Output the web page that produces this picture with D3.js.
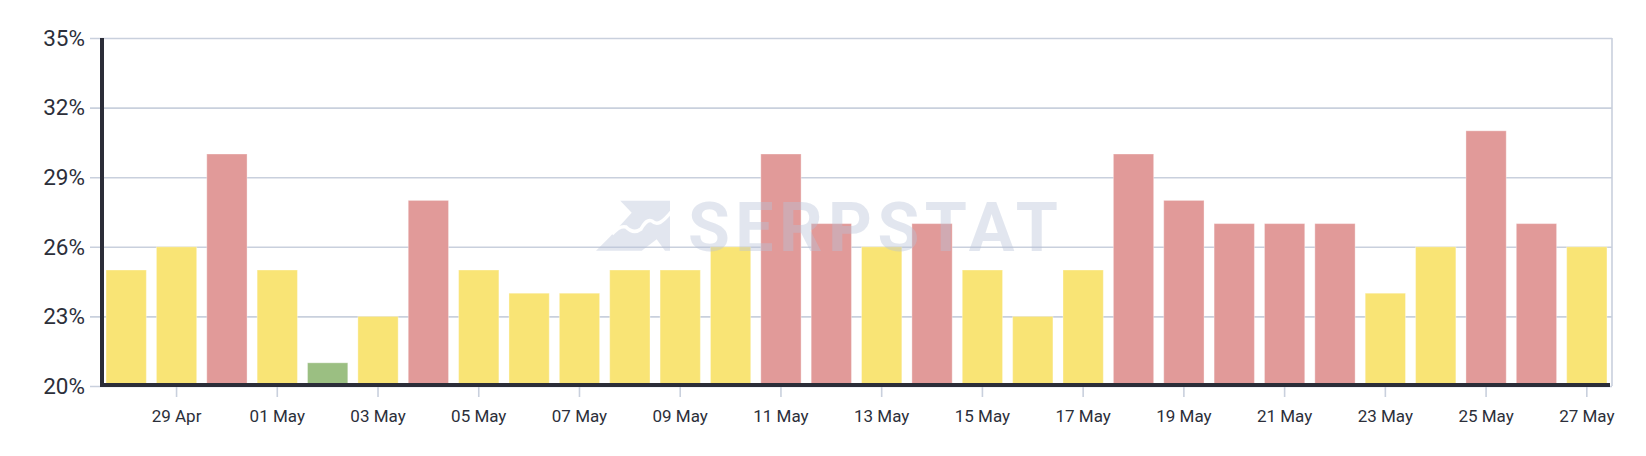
<!DOCTYPE html>
<html>
<head>
<meta charset="utf-8">
<script src="https://cdnjs.cloudflare.com/ajax/libs/d3/7.8.5/d3.min.js"></script>
<style>
  body { margin: 0; background: #fff; }
  text { font-family: Roboto, "Open Sans", sans-serif; }
</style>
</head>
<body>
<div class="container"></div>
<script>
// dias y valores
const days = ['28 Apr', '29 Apr', '30 Apr', '01 May', '02 May', '03 May', '04 May', '05 May',
  '06 May', '07 May', '08 May', '09 May', '10 May', '11 May', '12 May', '13 May', '14 May',
  '15 May', '16 May', '17 May', '18 May', '19 May', '20 May', '21 May', '22 May', '23 May',
  '24 May', '25 May', '26 May', '27 May'];
const values = [25, 26, 30, 25, 21, 23, 28, 25, 24, 24, 25, 25, 26, 30, 27, 26, 27, 25, 23, 25,
  30, 28, 27, 27, 27, 24, 26, 31, 27, 26];
const yTicks = [20, 23, 26, 29, 32, 35];
const xTicks = days.filter((d, i) => i % 2 === 1);

const WIDTH = 1646;
const HEIGHT = 456;
const LEFT = 101, RIGHT = 1612, TOP = 38, BOTTOM = 386;

const svg = d3.select('.container')
  .append('svg')
    .attr('width', WIDTH)
    .attr('height', HEIGHT);

const xscale = d3.scaleBand().domain(days).range([LEFT, RIGHT])
  .paddingInner(0.2).paddingOuter(0.1);
const yscale = d3.scaleLinear().domain([20, 35]).range([BOTTOM, TOP]);

// colores por nivel
const barColor = d3.scaleThreshold()
  .domain([22, 27])
  .range(['#9bbf82', '#f9e475', '#e19a99']);

// grilla
const grid = svg.append('g').attr('class', 'grid')
  .attr('transform', `translate(${LEFT}, 0)`)
  .call(d3.axisLeft(yscale).tickValues(yTicks).tickSize(-(RIGHT - LEFT)).tickSizeOuter(0)
        .tickFormat(''));
grid.select('.domain').remove();
grid.selectAll('line')
  .attr('x1', -11)
  .attr('stroke', '#c9d0dd')
  .attr('stroke-width', 1.6);

// borde derecho
svg.append('line')
  .attr('x1', RIGHT).attr('x2', RIGHT)
  .attr('y1', TOP).attr('y2', BOTTOM)
  .attr('stroke', '#c9d0dd')
  .attr('stroke-width', 1.6);

// barras
svg.append('g').selectAll('rect')
  .data(values)
  .join('rect')
    .attr('x', (d, i) => xscale(days[i]))
    .attr('y', d => yscale(d))
    .attr('width', xscale.bandwidth())
    .attr('height', d => yscale(20) - yscale(d))
    .attr('fill', d => barColor(d))
    .attr('stroke', 'rgba(255,255,255,0.35)')
    .attr('stroke-width', 1);

// marca de agua
const wm = svg.append('g').attr('opacity', 0.4);
wm.append('path')
  .attr('d', 'M620.3,200.7 L670,200.7 L670,250.7 L665,250.7 L656.7,239.3 L641.7,250.7 ' +
             'L596,250.7 L610,236.7 L631.7,212.7 Z')
  .attr('fill', '#b8c3d9');
wm.append('path')
  .attr('d', 'M612,234 C617,229 620,226 626,227 C632,233 637,232 641,229 C645,222 648,219 ' +
             '652,221 C657,226 662,223 672,211')
  .attr('fill', 'none')
  .attr('stroke', '#fff')
  .attr('stroke-width', 3.5);
wm.append('text')
  .attr('x', 688)
  .attr('y', 250.7)
  .attr('textLength', 370)
  .attr('lengthAdjust', 'spacing')
  .attr('font-size', 68)
  .attr('font-weight', 700)
  .attr('fill', '#b8c3d9')
  .text('SERPSTAT');

// eje x
const xAxis = svg.append('g')
  .attr('transform', `translate(0, ${BOTTOM + 1})`)
  .call(d3.axisBottom(xscale).tickValues(xTicks).tickSize(10).tickPadding(13).tickSizeOuter(0));
xAxis.select('.domain').remove();
xAxis.selectAll('line').attr('stroke', '#c9d0dd').attr('stroke-width', 1.6);
xAxis.selectAll('text')
  .attr('font-size', 17)
  .attr('fill', '#2c2f3a');

// eje y
const yAxis = svg.append('g')
  .attr('transform', `translate(${LEFT}, 0)`)
  .call(d3.axisLeft(yscale).tickValues(yTicks).tickSize(0).tickPadding(16)
        .tickFormat(d => d + '%'));
yAxis.select('.domain').remove();
yAxis.selectAll('text')
  .attr('font-size', 22.5)
  .attr('fill', '#2c2f3a');

// lineas oscuras de los ejes
svg.append('line')
  .attr('x1', LEFT + 1).attr('x2', LEFT + 1)
  .attr('y1', TOP).attr('y2', BOTTOM + 1)
  .attr('stroke', '#2b2d38')
  .attr('stroke-width', 4);
svg.append('line')
  .attr('x1', LEFT - 1).attr('x2', RIGHT - 2)
  .attr('y1', BOTTOM - 1).attr('y2', BOTTOM - 1)
  .attr('stroke', '#2b2d38')
  .attr('stroke-width', 4);
</script>
</body>
</html>
